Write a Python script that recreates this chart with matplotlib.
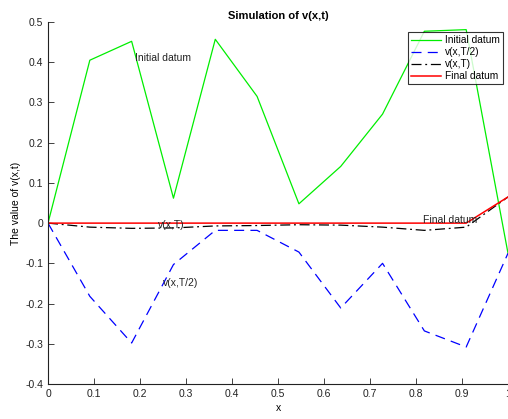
import numpy as np
import matplotlib
matplotlib.use("Agg")
import matplotlib.pyplot as plt

plt.rcParams['font.family'] = ['Liberation Sans', 'DejaVu Sans']

x = np.linspace(0, 1, 12)
initial = [0, 0.405, 0.452, 0.062, 0.457, 0.315, 0.048, 0.141, 0.271, 0.477, 0.481, -0.075]
half = [0, -0.182, -0.298, -0.103, -0.018, -0.018, -0.072, -0.211, -0.100, -0.268, -0.308, -0.075]
full = [0, -0.010, -0.013, -0.012, -0.007, -0.006, -0.004, -0.005, -0.010, -0.018, -0.010, 0.065]
final = [0, 0, 0, 0, 0, 0, 0, 0, 0, 0, 0, 0.065]

fig = plt.figure(figsize=(5.08, 4.19), dpi=100)
ax = fig.add_axes([0.0945, 0.0835, 0.9055, 0.864])

ax.plot(x, initial, color='#00ee00', lw=0.9, label='Initial datum')
ax.plot(x, half, color='#0000ff', lw=0.9, ls=(0, (8, 5)), label='v(x,T/2)')
ax.plot(x, full, color='black', lw=0.9, ls=(0, (8, 3, 1.5, 3)), label='v(x,T)')
ax.plot(x, final, color='#ff0000', lw=1.1, label='Final datum')

fs = 7.5
ax.text(0.19, 0.41, 'Initial datum', fontsize=fs, ha='left', va='center', color='#222222')
ax.text(0.24, -0.005, 'v(x,T)', fontsize=fs, ha='left', va='center', color='#222222')
ax.text(0.25, -0.148, 'v(x,T/2)', fontsize=fs, ha='left', va='center', color='#222222')
ax.text(0.815, 0.008, 'Final datum', fontsize=fs, ha='left', va='center', color='#222222')

ax.set_xlim(0, 1)
ax.set_ylim(-0.4, 0.5)
ax.set_xticks(np.arange(0, 1.01, 0.1))
ax.set_xticklabels(['0', '0.1', '0.2', '0.3', '0.4', '0.5', '0.6', '0.7', '0.8', '0.9', '1'])
ax.set_yticks(np.arange(-0.4, 0.51, 0.1))
ax.set_yticklabels(['-0.4', '-0.3', '-0.2', '-0.1', '0', '0.1', '0.2', '0.3', '0.4', '0.5'])
ax.tick_params(direction='in', labelsize=fs, length=4, width=0.6, colors='#222222')
for s in ['top', 'right']:
    ax.spines[s].set_visible(False)
for s in ['left', 'bottom']:
    ax.spines[s].set_linewidth(0.8)
    ax.spines[s].set_color('#222222')

ax.set_title('Simulation of v(x,t)', fontsize=8, fontweight='bold', pad=2)
ax.set_xlabel('x', fontsize=fs, labelpad=3)
ax.set_ylabel('The value of v(x,t)', fontsize=fs, labelpad=3)

leg = ax.legend(loc='upper right', bbox_to_anchor=(0.989, 0.972), fontsize=7.3,
                frameon=True, fancybox=False, borderpad=0.3, handlelength=3.0,
                handletextpad=0.4, labelspacing=0.2, borderaxespad=0)
leg.get_frame().set_edgecolor('black')
leg.get_frame().set_linewidth(0.8)

fig.savefig('out.png', dpi=100)
